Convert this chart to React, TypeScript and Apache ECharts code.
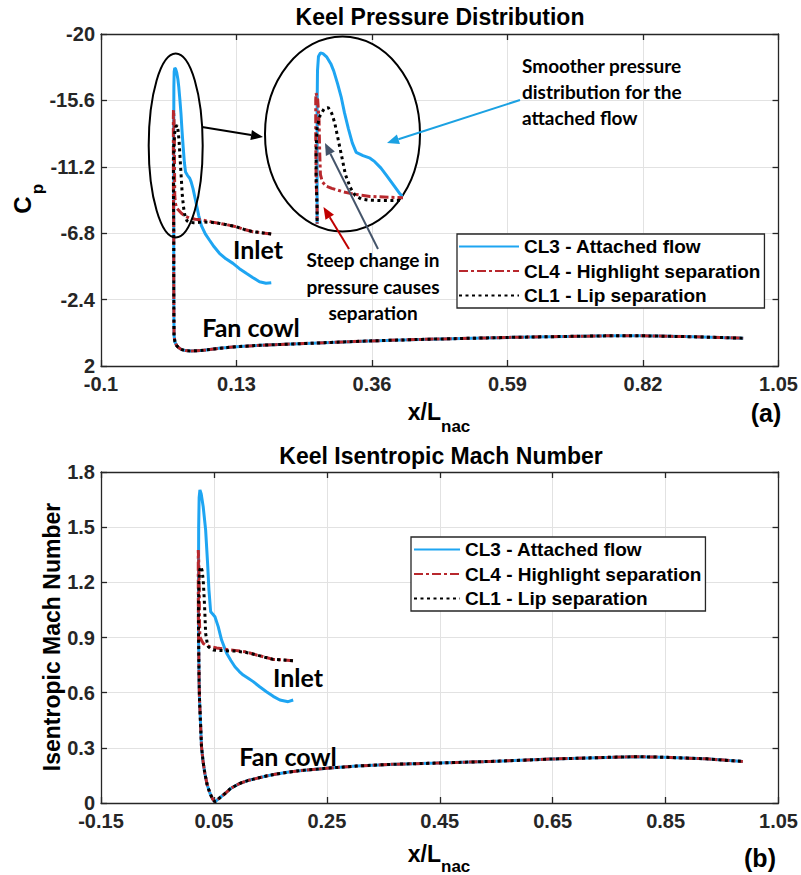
import React, { useEffect, useRef } from 'react';
import * as echarts from 'echarts';

type Pt = [number, number];

const seriesNames = ['CL3 - Attached flow', 'CL4 - Highlight separation', 'CL1 - Lip separation'];
const seriesColors = ['#1ea5f2', '#b8282d', '#000000'];

// Top chart axis ranges: [min, max, interval]
const cpXRange = [-0.1, 1.05, 0.23];
const cpYRange = [-20, 2, 4.4];
// Bottom chart axis ranges
const machXRange = [-0.15, 1.05, 0.2];
const machYRange = [0, 1.8, 0.3];
// Inset (zoomed leading-edge view) ranges
const insetXRange = [0.015, 0.0667];
const insetYRange = [-18.6, -6.0];

// ---------- Pressure coefficient (x/Lnac, Cp) ----------
const cpFanCowl: Pt[] = [
  [0.0235, -7.0], [0.0235, -4.0], [0.0237, -1.5], [0.024, 0.0], [0.0255, 0.4], [0.028, 0.62],
  [0.031, 0.76], [0.036, 0.9], [0.043, 0.98], [0.052, 1.0], [0.062, 0.99], [0.075, 0.95],
  [0.085, 0.9], [0.1, 0.83], [0.13, 0.72], [0.17, 0.63], [0.225, 0.54], [0.29, 0.44],
  [0.355, 0.34], [0.44, 0.24], [0.53, 0.16], [0.6, 0.1], [0.69, 0.04], [0.76, 0.0],
  [0.82, 0.0], [0.89, 0.05], [0.95, 0.11], [0.99, 0.16],
];
const cpCL3Inlet: Pt[] = [
  [0.189, -3.52], [0.18, -3.48], [0.169, -3.58], [0.158, -3.85], [0.1465, -4.14], [0.135, -4.45],
  [0.124, -4.8], [0.112, -5.1], [0.101, -5.47], [0.092, -5.9], [0.084, -6.35], [0.077, -6.75],
  [0.0704, -7.3], [0.066, -7.95], [0.062, -8.7], [0.059, -9.25], [0.0562, -9.75], [0.053, -10.2],
  [0.0506, -10.44], [0.047, -10.62], [0.0435, -10.85], [0.0415, -11.5], [0.0395, -12.5],
  [0.0375, -13.6], [0.0358, -14.7], [0.034, -15.6], [0.032, -16.5], [0.0305, -17.0],
  [0.0285, -17.45], [0.0265, -17.7], [0.0252, -17.75], [0.0242, -17.5], [0.0237, -16.5],
  [0.0235, -14.0], [0.0235, -10.0],
];
const cpCL4Inlet: Pt[] = [
  [0.1888, -6.75], [0.175, -6.82], [0.1577, -6.9], [0.143, -7.05], [0.1296, -7.23], [0.115, -7.35],
  [0.1014, -7.45], [0.087, -7.55], [0.0731, -7.67], [0.06, -7.73], [0.0506, -7.79], [0.043, -7.93],
  [0.0365, -8.12], [0.031, -8.35], [0.0281, -8.5], [0.0262, -8.8], [0.0252, -9.3], [0.0248, -11.0],
  [0.0245, -13.0], [0.0238, -14.5], [0.023, -14.96], [0.0228, -14.5], [0.0228, -12.0], [0.023, -9.0],
];
const cpCL1Inlet: Pt[] = [
  [0.1888, -6.75], [0.175, -6.82], [0.1577, -6.9], [0.143, -7.05], [0.1296, -7.23], [0.115, -7.35],
  [0.1014, -7.45], [0.087, -7.52], [0.0731, -7.55], [0.062, -7.5], [0.056, -7.5], [0.05, -7.53],
  [0.046, -7.62], [0.043, -7.85], [0.0405, -8.4], [0.038, -9.3], [0.0365, -10.3], [0.0345, -11.6],
  [0.0325, -12.9], [0.031, -13.55], [0.0292, -13.95], [0.027, -13.85], [0.025, -13.4], [0.0235, -12.6],
  [0.023, -11.0], [0.023, -9.0],
];

// ---------- Isentropic Mach number (x/Lnac, M) ----------
const machFanCowl: Pt[] = [
  [0.0228, 0.9], [0.0238, 0.65], [0.0245, 0.56], [0.0255, 0.49], [0.028, 0.306], [0.031, 0.22],
  [0.034, 0.16], [0.038, 0.1], [0.043, 0.053], [0.048, 0.02], [0.0518, 0.007], [0.057, 0.02],
  [0.0665, 0.0435], [0.08, 0.08], [0.096, 0.107], [0.11, 0.122], [0.1256, 0.134], [0.143, 0.147],
  [0.161, 0.158], [0.18, 0.167], [0.2022, 0.176], [0.2495, 0.189], [0.3026, 0.201], [0.3615, 0.21],
  [0.444, 0.217], [0.5385, 0.226], [0.6477, 0.239], [0.745, 0.248], [0.798, 0.252], [0.845, 0.249],
  [0.922, 0.24], [0.9868, 0.226],
];
const machCL3Inlet: Pt[] = [
  [0.1904, 0.56], [0.1815, 0.551], [0.1668, 0.56], [0.155, 0.58], [0.143, 0.605], [0.131, 0.632],
  [0.1196, 0.66], [0.11, 0.68], [0.1019, 0.696], [0.095, 0.715], [0.0872, 0.741], [0.08, 0.775],
  [0.0725, 0.814], [0.0636, 0.886], [0.0576, 0.959], [0.0518, 1.013], [0.047, 1.03], [0.0442, 1.04],
  [0.0412, 1.158], [0.0388, 1.303], [0.0353, 1.485], [0.031, 1.611], [0.0275, 1.68], [0.0252, 1.702],
  [0.0238, 1.66], [0.023, 1.5], [0.0227, 1.2], [0.0227, 0.95],
];
const machCL4Inlet: Pt[] = [
  [0.19, 0.774], [0.172, 0.778], [0.155, 0.781], [0.14, 0.793], [0.1256, 0.805], [0.1049, 0.823],
  [0.087, 0.83], [0.0695, 0.836], [0.055, 0.843], [0.043, 0.85], [0.036, 0.858], [0.031, 0.868],
  [0.027, 0.89], [0.0252, 0.904], [0.0245, 0.98], [0.024, 1.15], [0.0232, 1.3], [0.0223, 1.376],
  [0.0223, 1.2], [0.0225, 1.0],
];
const machCL1Inlet: Pt[] = [
  [0.19, 0.774], [0.172, 0.778], [0.155, 0.781], [0.14, 0.793], [0.1256, 0.805], [0.1049, 0.82],
  [0.087, 0.826], [0.0695, 0.828], [0.058, 0.83], [0.0488, 0.832], [0.044, 0.84], [0.04, 0.85],
  [0.0375, 0.88], [0.0353, 0.923], [0.034, 1.03], [0.0325, 1.13], [0.031, 1.213], [0.029, 1.265],
  [0.027, 1.285], [0.025, 1.27], [0.0235, 1.2], [0.0225, 1.05],
];

const ARIAL = '"Liberation Sans", Arial, sans-serif';
const CALIBRI = 'Lato, "Open Sans", sans-serif';
const AXIS_COLOR = '#262626';

const lineStyles: any[] = [
  { width: 3, type: 'solid' },
  { width: 3, type: [9, 3, 3, 3] },
  { width: 3, type: [3, 3.5] },
];

function fmt(v: number, d: number) {
  return String(Number(v.toFixed(d)));
}

function mainAxes(gridIndex: number, xr: number[], yr: number[], inverseY: boolean, xd: number, yd: number) {
  const label = { fontFamily: ARIAL, fontWeight: 'bold', fontSize: 20, color: AXIS_COLOR, lineHeight: 16 };
  const axisLine = { show: true, onZero: false, lineStyle: { color: AXIS_COLOR, width: 1.3 } };
  const tick = { show: true, inside: true, length: 6, lineStyle: { color: AXIS_COLOR, width: 1.3 } };
  const split = { show: true, lineStyle: { color: '#e2e2e2', width: 1 } };
  const xBase = { type: 'value', gridIndex, min: xr[0], max: xr[1], interval: xr[2] };
  const yBase = { type: 'value', gridIndex, min: yr[0], max: yr[1], interval: yr[2], inverse: inverseY };
  return {
    x: [
      { ...xBase, position: 'bottom', axisLine, axisTick: tick, splitLine: split,
        axisLabel: { ...label, margin: 10, formatter: (v: number) => fmt(v, xd) } },
      { ...xBase, position: 'top', axisLine, axisTick: tick, splitLine: { show: false }, axisLabel: { show: false } },
    ],
    y: [
      { ...yBase, position: 'left', axisLine, axisTick: tick, splitLine: split,
        axisLabel: { ...label, margin: 6, formatter: (v: number) => fmt(v, yd) } },
      { ...yBase, position: 'right', axisLine, axisTick: tick, splitLine: { show: false }, axisLabel: { show: false } },
    ],
  };
}

function arrow(x1: number, y1: number, x2: number, y2: number, color: string) {
  const dx = x2 - x1;
  const dy = y2 - y1;
  const len = Math.sqrt(dx * dx + dy * dy);
  const ux = dx / len;
  const uy = dy / len;
  const L = 12;
  const W = 5;
  const bx = x2 - ux * L;
  const by = y2 - uy * L;
  return [
    { type: 'line', z: 8, shape: { x1, y1, x2: bx, y2: by }, style: { stroke: color, lineWidth: 2 } },
    {
      type: 'polygon', z: 8,
      shape: { points: [[x2, y2], [bx - uy * W, by + ux * W], [bx + uy * W, by - ux * W]] },
      style: { fill: color },
    },
  ];
}

function text(x: number, y: number, t: string, font: string, opts: any = {}) {
  return {
    type: 'text', x, y, z: 9, rotation: opts.rotation || 0,
    style: {
      text: t, font, fill: opts.fill || '#000',
      textAlign: opts.align || 'center', textVerticalAlign: opts.valign || 'middle',
      lineHeight: opts.lineHeight,
    },
  };
}

export default function App() {
  const ref = useRef<HTMLDivElement>(null);

  useEffect(() => {
    if (!ref.current) return;
    const chart = echarts.init(ref.current, undefined, { renderer: 'svg' });

    const top = mainAxes(0, cpXRange, cpYRange, true, 2, 1);
    const bot = mainAxes(1, machXRange, machYRange, false, 2, 1);

    const cpData = [cpCL3Inlet, cpCL4Inlet, cpCL1Inlet].map((d) => d.concat(cpFanCowl));
    const machData = [machCL3Inlet, machCL4Inlet, machCL1Inlet].map((d) => d.concat(machFanCowl));

    const series: any[] = [];
    cpData.forEach((d, i) => {
      series.push({
        type: 'line', name: seriesNames[i], xAxisIndex: 0, yAxisIndex: 0, data: d,
        symbol: 'none', smooth: false, color: seriesColors[i],
        lineStyle: { ...lineStyles[i], color: seriesColors[i] }, z: 2 + i,
      });
    });
    cpData.forEach((d, i) => {
      series.push({
        type: 'line', name: seriesNames[i], xAxisIndex: 4, yAxisIndex: 4, data: d,
        symbol: 'none', clip: true, color: seriesColors[i],
        lineStyle: { ...lineStyles[i], color: seriesColors[i] }, z: 2 + i,
      });
    });
    machData.forEach((d, i) => {
      series.push({
        type: 'line', name: seriesNames[i], xAxisIndex: 2, yAxisIndex: 2, data: d,
        symbol: 'none', color: seriesColors[i],
        lineStyle: { ...lineStyles[i], color: seriesColors[i] }, z: 2 + i,
      });
    });

    const legendText = { fontFamily: ARIAL, fontWeight: 'bold', fontSize: 19, color: '#000', lineHeight: 20 };
    const legendBase = {
      data: seriesNames, orient: 'vertical', itemHeight: 14, itemGap: 4.5, selectedMode: false,
      backgroundColor: '#fff', borderColor: AXIS_COLOR, borderWidth: 1.3, textStyle: legendText, z: 6,
      itemStyle: { opacity: 0, color: 'transparent', borderColor: 'transparent', borderWidth: 0 },
    };

    const graphics: any[] = [
      // titles
      text(440, 17, 'Keel Pressure Distribution', `bold 23px ${ARIAL}`),
      text(441, 456, 'Keel Isentropic Mach Number', `bold 23px ${ARIAL}`),
      // y labels
      text(22, 205, 'C', `bold 24px ${ARIAL}`, { rotation: Math.PI / 2 }),
      text(37, 189, 'p', `bold 17px ${ARIAL}`, { rotation: Math.PI / 2 }),
      text(52, 637, 'Isentropic Mach Number', `bold 23px ${ARIAL}`, { rotation: Math.PI / 2 }),
      // x labels
      text(441, 412, 'x/L', `bold 23px ${ARIAL}`, { align: 'right' }),
      text(441, 426, 'nac', `bold 17px ${ARIAL}`, { align: 'left' }),
      text(441, 854, 'x/L', `bold 23px ${ARIAL}`, { align: 'right' }),
      text(441, 866, 'nac', `bold 17px ${ARIAL}`, { align: 'left' }),
      text(766, 413, '(a)', `bold 25px ${ARIAL}`),
      text(760, 858, '(b)', `bold 25px ${ARIAL}`),
      // annotations
      text(258, 249, 'Inlet', `bold 25px ${CALIBRI}`),
      text(251, 327, 'Fan cowl', `bold 25px ${CALIBRI}`),
      text(298, 677, 'Inlet', `bold 25px ${CALIBRI}`),
      text(288, 756, 'Fan cowl', `bold 25px ${CALIBRI}`),
      text(522, 91, 'Smoother pressure\ndistribution for the\nattached flow', `bold 19px ${CALIBRI}`,
        { align: 'left', lineHeight: 26 }),
      text(373, 286, 'Steep change in\npressure causes\nseparation', `bold 19px ${CALIBRI}`,
        { align: 'center', lineHeight: 26.5 }),
      // ellipses
      {
        type: 'ellipse', z: 1, shape: { cx: 342.5, cy: 134, rx: 77.5, ry: 97.5 },
        style: { fill: '#fff', stroke: '#000', lineWidth: 2 },
      },
      {
        type: 'ellipse', z: 8, shape: { cx: 175.7, cy: 145.5, rx: 27, ry: 92 },
        style: { fill: 'none', stroke: '#000', lineWidth: 2 },
      },
      ...arrow(202, 127, 263, 137, '#000'),
      ...arrow(520, 100, 387, 143, '#1ba1e2'),
      ...arrow(349, 249, 323.5, 207, '#c00000'),
      ...arrow(378, 249, 325, 143, '#44546a'),
    ];

    chart.setOption({
      animation: false,
      backgroundColor: '#fff',
      grid: [
        { left: 101, top: 34, width: 679, height: 332, containLabel: false },
        { left: 101, top: 472, width: 679, height: 331, containLabel: false },
        { left: 300.5, top: 40.6, width: 101, height: 181.6, containLabel: false, z: 2 },
      ],
      xAxis: [
        ...top.x,
        ...bot.x,
        { type: 'value', gridIndex: 2, min: insetXRange[0], max: insetXRange[1], show: false },
      ],
      yAxis: [
        ...top.y,
        ...bot.y,
        { type: 'value', gridIndex: 2, min: insetYRange[0], max: insetYRange[1], inverse: true, show: false },
      ],
      legend: [
        { ...legendBase, left: 457, top: 234, itemWidth: 60, padding: [2.5, 4, 2.5, 1] },
        { ...legendBase, left: 411, top: 537, itemWidth: 46, padding: [2.5, 4, 2.5, 2] },
      ],
      series,
      graphic: { elements: graphics },
    });

    return () => chart.dispose();
  }, []);

  return (
    <div
      ref={ref}
      style={{ position: 'absolute', left: 0, top: 0, width: 801, height: 875, background: '#fff' }}
    />
  );
}
